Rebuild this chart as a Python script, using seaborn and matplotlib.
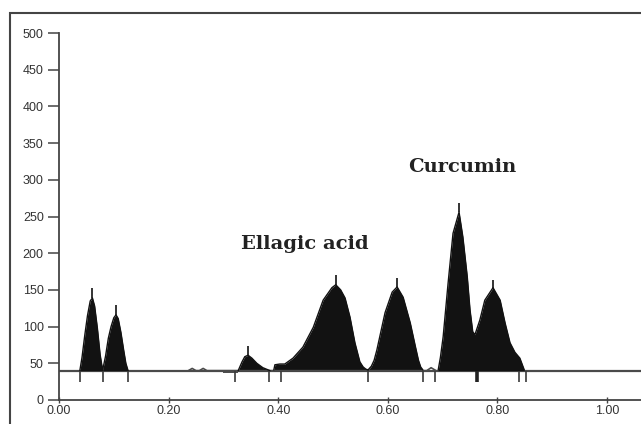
import matplotlib
matplotlib.use("Agg")
import matplotlib.pyplot as plt
from matplotlib.patches import Rectangle
import numpy as np
import pandas as pd
import seaborn as sns

# ---------------- data ----------------
baseline = 40

peak1_x = [0.038, 0.042, 0.047, 0.052, 0.057, 0.061, 0.065, 0.070, 0.075, 0.078, 0.080]
peak1_y = [40, 58, 88, 115, 135, 139, 128, 98, 62, 48, 42]

peak2_x = [0.080, 0.085, 0.090, 0.095, 0.100, 0.104, 0.108, 0.113, 0.118, 0.122, 0.126]
peak2_y = [42, 60, 84, 100, 112, 116, 111, 92, 68, 50, 40]

peak3_x = [0.327, 0.334, 0.339, 0.345, 0.352, 0.361, 0.372, 0.385]
peak3_y = [40, 52, 59, 61, 57, 50, 44, 40]

peak4_x = [0.392, 0.394, 0.403, 0.412, 0.427, 0.445, 0.464, 0.482, 0.498,
           0.505, 0.514, 0.522, 0.531, 0.540, 0.549, 0.555, 0.560, 0.564]
peak4_y = [41, 48, 49, 49, 57, 72, 99, 136, 153, 157, 150, 139, 113, 78, 52, 45, 42, 41]

peak5_x = [0.564, 0.570, 0.575, 0.580, 0.595, 0.608, 0.617, 0.628, 0.641,
           0.650, 0.656, 0.660, 0.664]
peak5_y = [41, 46, 54, 68, 119, 147, 154, 140, 105, 74, 54, 45, 41]

peak6_x = [0.692, 0.696, 0.701, 0.710, 0.719, 0.730, 0.737, 0.745, 0.750, 0.755, 0.759,
           0.768, 0.777, 0.792, 0.805, 0.814, 0.823, 0.832, 0.841, 0.847, 0.849]
peak6_y = [41, 58, 86, 159, 227, 256, 222, 168, 123, 93, 89,
           109, 136, 153, 136, 105, 78, 65, 57, 45, 41]

blip_x = [0.236, 0.243, 0.250, 0.256, 0.263, 0.270, 0.671, 0.679, 0.688]
blip_y = [40, 43, 40, 40, 43, 40, 40, 44, 40]

spike_x = [0.061, 0.104, 0.345, 0.505, 0.617, 0.730, 0.792]
spike_bottom = [139, 116, 61, 157, 154, 256, 153]
spike_top = [153, 130, 74, 170, 166, 268, 163]

marker_x = [0.038, 0.080, 0.126, 0.321, 0.383, 0.405, 0.564, 0.664, 0.686,
            0.839, 0.852]
thick_marker_x = [0.763]
marker_low = 24

y_ticks = [0, 50, 100, 150, 200, 250, 300, 350, 400, 450, 500]
x_ticks = [0.0, 0.2, 0.4, 0.6, 0.8, 1.0]
x_tick_labels = ["0.00", "0.20", "0.40", "0.60", "0.80", "1.00"]

labels = ["Ellagic acid", "Curcumin"]
label_x = [0.449, 0.735]
label_y = [212, 317]

# ---------------- figure ----------------
sns.set_style("ticks")
plt.rcParams["font.family"] = ["Liberation Sans", "DejaVu Sans"]

W, H = 641, 424
fig = plt.figure(figsize=(W / 100, H / 100), dpi=100)
ax = fig.add_axes([59 / W, 24 / H, 1 - 59 / W, (400 - 33) / H])

ink = "#121212"
peaks = [(peak1_x, peak1_y), (peak2_x, peak2_y), (peak3_x, peak3_y),
         (peak4_x, peak4_y), (peak5_x, peak5_y), (peak6_x, peak6_y)]

# baseline
ax.axhline(baseline, color="#4a4a4a", lw=1.6, zorder=1)
ax.hlines(38, 0.300, 0.327, color="#4a4a4a", lw=1.4, zorder=1)

for px, py in peaks:
    df = pd.DataFrame({"x": px, "y": py})
    sns.lineplot(data=df, x="x", y="y", color=ink, lw=1.0, ax=ax,
                 estimator=None, sort=False, zorder=3)
    ax.fill_between(px, baseline, py, color=ink, lw=0, zorder=2)

sns.lineplot(x=blip_x, y=blip_y, color="#4a4a4a", lw=1.2, ax=ax,
             estimator=None, sort=False, zorder=2)

# apex spikes
ax.vlines(spike_x, spike_bottom, spike_top, color=ink, lw=1.2, zorder=3)
# integration markers
ax.vlines(marker_x, marker_low, baseline, color="#3a3a3a", lw=1.2, zorder=3)
ax.vlines(thick_marker_x, marker_low, baseline, color="#222222", lw=2.6, zorder=3)

for t, x, y in zip(labels, label_x, label_y):
    ax.text(x, y, t, ha="center", va="center", fontsize=14, fontweight="bold",
            family=["DejaVu Serif"], color="#222222")

ax.set_xlim(0, (W - 59) / 548)
ax.set_ylim(0, 500)
ax.set_yticks(y_ticks)
ax.set_yticklabels([str(v) for v in y_ticks])
ax.set_xticks(x_ticks)
ax.set_xticklabels(x_tick_labels)
ax.set_xlabel("")
ax.set_ylabel("")

for s in ["top", "right"]:
    ax.spines[s].set_visible(False)
for s in ["left", "bottom"]:
    ax.spines[s].set_color("#444444")
    ax.spines[s].set_linewidth(1.3)

ax.tick_params(axis="y", direction="out", length=8, width=1.1, color="#444444",
               labelsize=9, labelcolor="#333333", pad=3)
ax.tick_params(axis="x", direction="inout", length=5, width=1.0, color="#444444",
               labelsize=9, labelcolor="#333333", pad=1)

# outer frame
fig.add_artist(Rectangle((10 / W, -0.1), 2, (H - 13) / H + 0.1,
                         transform=fig.transFigure, fill=False,
                         ec="#444444", lw=1.5))

fig.savefig("out.png", dpi=100)
